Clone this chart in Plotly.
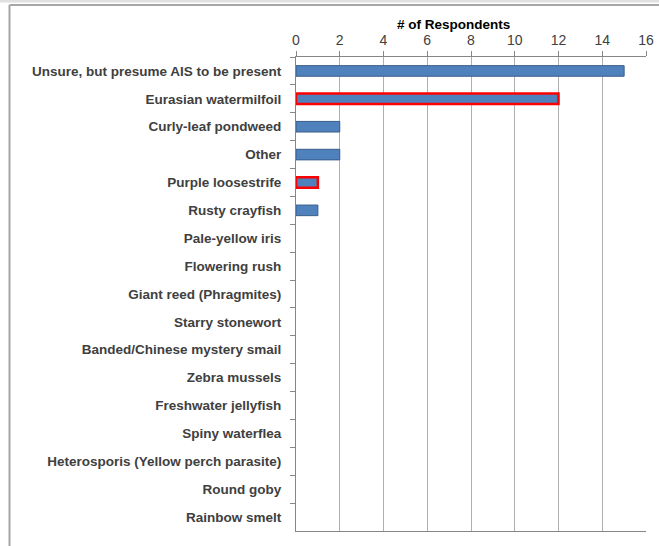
import plotly.graph_objects as go

categories = [
    "Unsure, but presume AIS to be present",
    "Eurasian watermilfoil",
    "Curly-leaf pondweed",
    "Other",
    "Purple loosestrife",
    "Rusty crayfish",
    "Pale-yellow iris",
    "Flowering rush",
    "Giant reed (Phragmites)",
    "Starry stonewort",
    "Banded/Chinese mystery smail",
    "Zebra mussels",
    "Freshwater jellyfish",
    "Spiny waterflea",
    "Heterosporis (Yellow perch parasite)",
    "Round goby",
    "Rainbow smelt",
]
respondents = [15, 12, 2, 2, 1, 1, 0, 0, 0, 0, 0, 0, 0, 0, 0, 0, 0]
highlighted = ["Eurasian watermilfoil", "Purple loosestrife"]
x_ticks = [0, 2, 4, 6, 8, 10, 12, 14, 16]

line_colors = ["#FF0000" if c in highlighted else "#385D8A" for c in categories]
line_widths = [(2.5 if c in highlighted else 1) if v > 0 else 0
               for c, v in zip(categories, respondents)]

fig = go.Figure(go.Bar(
    y=categories, x=respondents, orientation="h", width=0.38,
    marker=dict(color="#4F81BD", line=dict(color=line_colors, width=line_widths)),
    hoverinfo="skip",
))

W, H = 659, 546
L, R, T, B = 296, 13, 57, 15
pw, ph = W - L - R, H - T - B

def px(x):
    return (x - L) / pw

def py(y):
    return (H - B - y) / ph

fig.update_layout(
    width=W, height=H,
    margin=dict(l=L, r=R, t=T, b=B, pad=0, autoexpand=False),
    plot_bgcolor="white", paper_bgcolor="white",
    showlegend=False,
    font=dict(family="Liberation Sans", size=12, color="#404040"),
    xaxis=dict(
        side="top", range=[0, 16], tickvals=x_ticks, automargin=False,
        showgrid=True, gridcolor="#B0B0B0", gridwidth=1,
        showline=True, linecolor="#868686", linewidth=1, mirror=True,
        ticks="outside", ticklen=5, tickcolor="#868686",
        tickfont=dict(size=14, color="#404040", family="Liberation Sans"),
        zeroline=False, fixedrange=True,
    ),
    yaxis=dict(
        autorange="reversed", type="category", automargin=False,
        showline=True, linecolor="#868686", linewidth=1,
        ticks="outside", ticklen=5, tickcolor="#868686", tickson="boundaries",
        tickfont=dict(size=13.5, color="#404040", family="Liberation Sans", weight="bold"),
        ticklabelstandoff=11,
        showgrid=False, fixedrange=True,
    ),
    bargap=0.6,
    shapes=[
        dict(type="rect", xref="paper", yref="paper", x0=px(0), x1=px(W), y0=py(2.5), y1=py(0),
             fillcolor="#E0E0E0", line=dict(width=0), layer="below"),
        dict(type="line", xref="paper", yref="paper", x0=px(9.5), x1=px(W), y0=py(5), y1=py(5),
             line=dict(color="#A6A6A6", width=2)),
        dict(type="line", xref="paper", yref="paper", x0=px(9.5), x1=px(9.5), y0=py(5), y1=py(H),
             line=dict(color="#A6A6A6", width=2)),
    ],
    annotations=[
        dict(text="<b># of Respondents</b>", xref="paper", yref="paper",
             x=px(453), y=py(24), showarrow=False, xanchor="center", yanchor="middle",
             font=dict(size=13.5, color="#000000", family="Liberation Sans")),
    ],
)

fig.write_html(
    "out.html",
    config={"displayModeBar": False, "staticPlot": True},
    post_script="document.body.style.margin='0';document.body.style.overflow='hidden';",
)
